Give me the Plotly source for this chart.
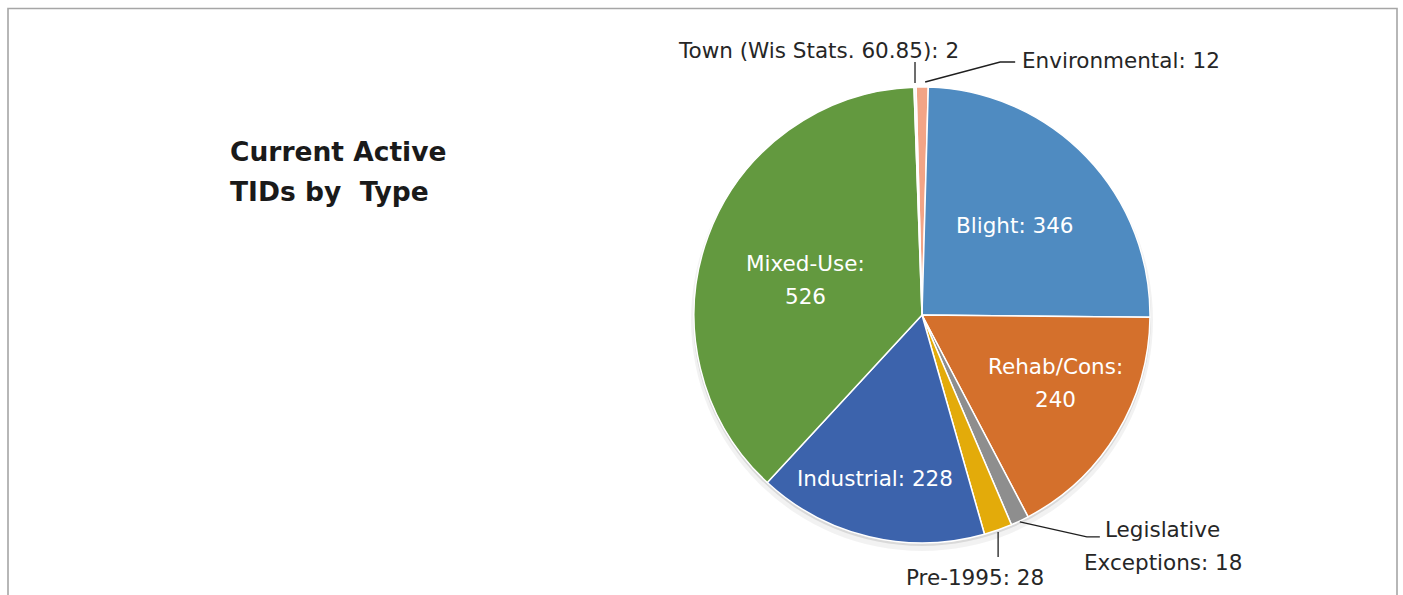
import math
import plotly.graph_objects as go

# ---------------- data ----------------
categories = ["Environmental", "Blight", "Rehab/Cons", "Legislative Exceptions",
              "Pre-1995", "Industrial", "Mixed-Use", "Town (Wis Stats. 60.85)"]
values = [12, 346, 240, 18, 28, 228, 526, 2]
title_lines = ["Current Active", "TIDs by\u00a0 Type"]

# ---------------- style ----------------
colors = ["#F2A486", "#4F8BC1", "#D4702C", "#8E8E8E",
          "#E3AB0A", "#3C63AC", "#63993F", "#F3F0EA"]
W, H = 1403, 595
CX, CY, R = 922, 315, 228          # pie centre / radius in pixels
ROT = -1.5                          # start angle of first slice (deg, clockwise)
FONT = "DejaVu Sans"
FSIZE = 21.5
LINE_H = 33

label_breaks = {"Legislative Exceptions": "Legislative<br>Exceptions"}
colon_break = {"Rehab/Cons", "Mixed-Use"}

# inside labels: (radius fraction, angle tweak in deg)
inside_pos = {"Blight": (0.568, 0.0), "Rehab/Cons": (0.655, -4.5),
              "Industrial": (0.745, 2.5), "Mixed-Use": (0.535, -3.7)}
# outside labels: text offset from slice edge (px), anchor, leader path offsets
outside_pos = {
    "Town (Wis Stats. 60.85)": ((-97, -37), "center", [(0, -4), (0, -25)]),
    "Environmental": ((98, -27), "left", [(3, -5), (78, -25), (93, -25)]),
    "Legislative Exceptions": ((143, 25), "center", [(0, 1), (67, 16), (80, 16)]),
    "Pre-1995": ((-23, 48), "center", [(0, 2), (0, 27)]),
}


def px2x(px):
    return px / W


def py2y(py):
    return 1 - py / H


def label_text(name, v):
    shown = label_breaks.get(name, name)
    sep = ":<br>" if name in colon_break else ": "
    return f"{shown}{sep}{v}"


total = sum(values)
mid_angles = []
acc = 0
for v in values:
    mid_angles.append(ROT + (acc + v / 2) / total * 360)
    acc += v


def polar(theta_deg, r):
    t = math.radians(theta_deg)
    return CX + r * math.sin(t), CY - r * math.cos(t)


annotations = []
shapes = []


def add_text(txt, x, y, anchor, color, size=FSIZE):
    lines = txt.split("<br>")
    n = len(lines)
    for i, ln in enumerate(lines):
        yy = y + (i - (n - 1) / 2) * LINE_H
        annotations.append(dict(
            x=px2x(x), y=py2y(yy), xref="paper", yref="paper",
            text=ln, showarrow=False, xanchor=anchor, yanchor="middle",
            font=dict(family=FONT, size=size, color=color)))


fig = go.Figure()

# soft shadow under the pie
for off, extra, alpha in [(5, 3, 0.05), (2, 1, 0.10)]:
    r2 = R + extra
    fig.add_trace(go.Pie(
        values=[total], marker=dict(colors=[f"rgba(0,0,0,{alpha})"]),
        textinfo="none", hoverinfo="skip", showlegend=False, sort=False,
        domain=dict(x=[px2x(CX - r2), px2x(CX + r2)],
                    y=[py2y(CY + off + r2), py2y(CY + off - r2)])))

fig.add_trace(go.Pie(
    labels=categories, values=values, sort=False, direction="clockwise",
    rotation=ROT, textinfo="none", hoverinfo="label+value",
    marker=dict(colors=colors, line=dict(color="white", width=1.5)),
    showlegend=False,
    domain=dict(x=[px2x(CX - R), px2x(CX + R)], y=[py2y(CY + R), py2y(CY - R)])))

for name, v, th in zip(categories, values, mid_angles):
    txt = label_text(name, v)
    if name in inside_pos:
        frac, dth = inside_pos[name]
        x, y = polar(th + dth, frac * R)
        add_text(txt, x, y, "center", "white")
    elif name in outside_pos:
        (ox, oy), anchor, path = outside_pos[name]
        ex, ey = polar(th, R)
        add_text(txt, ex + ox, ey + oy, anchor, "#262626")
        pts = [(px2x(ex + dx), py2y(ey + dy)) for dx, dy in path]
        d = "M " + " L ".join(f"{a:.5f},{b:.5f}" for a, b in pts)
        shapes.append(dict(type="path", path=d, xref="paper", yref="paper",
                           line=dict(color="#1f1f1f", width=1.3)))

# title
for i, line in enumerate(title_lines):
    annotations.append(dict(x=px2x(228), y=py2y(151 + 41 * i), xref="paper", yref="paper",
                            text=f"<b>{line}</b>", showarrow=False, xanchor="left",
                            yanchor="middle", font=dict(family=FONT, size=26.5, color="#1a1a1a")))

# outer frame
shapes.append(dict(type="rect", xref="paper", yref="paper", x0=px2x(8), x1=px2x(1397),
                   y0=-0.1, y1=py2y(8.5), line=dict(color="#A6A6A6", width=1.6)))

fig.update_layout(width=W, height=H, autosize=False,
                  margin=dict(l=0, r=0, t=0, b=0),
                  paper_bgcolor="white", plot_bgcolor="white",
                  annotations=annotations, shapes=shapes)

fig.write_html("out.html", config={"displayModeBar": False},
               post_script="document.body.style.margin='0px';"
                           "document.body.style.overflow='hidden';")
